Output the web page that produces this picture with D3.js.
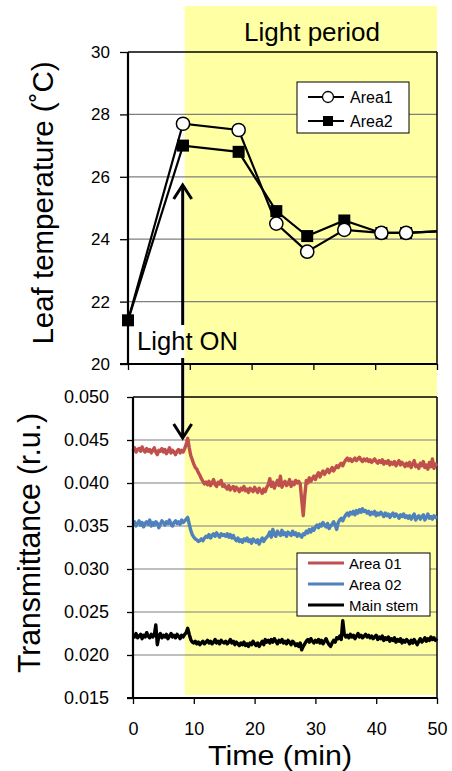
<!DOCTYPE html>
<html>
<head>
<meta charset="utf-8">
<script src="https://cdn.jsdelivr.net/npm/d3@7"></script>
<style>
  html, body { margin: 0; padding: 0; background: #fff; }
  svg { display: block; }
  text { font-family: "Liberation Sans", Arial, sans-serif; fill: #000; }
</style>
</head>
<body>
<svg id="chart" width="452" height="771"></svg>
<script>
// ---------------- DATA ----------------
// Top panel: leaf temperature (°C)
const tempTimes = [0, 8.9, 17.9, 24, 29, 35, 41, 45, 50];
const area1Temp = [21.4, 27.7, 27.5, 24.5, 23.6, 24.3, 24.2, 24.2, 24.25];
const area2Temp = [21.4, 27.0, 26.8, 24.9, 24.1, 24.6, 24.2, 24.2, 24.25];
const tempTicks = [20, 22, 24, 26, 28, 30];

// Bottom panel: transmittance (r.u.), sampled every 0.25 min from 0 to 50, in units of 0.0001
const sampleStep = 0.25;
const area01Trans = [
  438,441,436,439,440,437,442,438,436,440,
  437,439,435,438,441,436,433,438,437,440,
  436,439,434,437,441,435,438,436,433,437,
  439,435,438,436,440,
  445,452,441,432,427,422,418,416,412,409,405,402,399,401,
  398,402,397,400,404,398,396,401,399,403,396,398,
  395,393,397,392,394,396,391,395,393,390,394,392,396,391,393,389,394,392,390,395,
  392,389,394,391,388,393,390,395,
  398,405,396,401,394,399,403,397,408,395,400,402,397,399,404,396,401,398,403,400,402,
  399,380,362,385,403,400,406,402,405,408,404,
  409,412,407,411,414,410,413,416,412,415,418,414,417,420,418,421,423,420,424,427,
  429,426,428,425,427,429,426,428,430,427,425,428,
  426,428,425,427,424,426,428,425,423,426,424,427,422,425,423,426,421,424,422,425,420,423,426,421,424,422,419,423,
  420,424,418,422,426,419,421,417,423,420,425,418,421,416,424,419,428,417,422,420
];
const area02Trans = [
  352,355,350,353,356,351,354,349,353,355,
  352,357,350,354,351,355,353,348,352,356,
  354,351,355,353,357,352,350,354,356,353,
  355,352,357,354,356,
  358,360,352,345,340,337,335,334,332,333,335,333,336,338,
  337,340,336,339,341,338,342,339,337,341,339,340,
  338,341,337,340,336,339,335,333,336,332,334,331,335,333,336,332,334,330,335,333,
  331,334,329,333,336,332,335,337,
  339,343,337,346,340,338,344,341,339,345,340,342,338,343,341,339,344,340,342,338,341,
  339,337,341,340,344,342,346,343,347,345,349,
  351,348,352,350,354,351,349,353,347,350,352,355,351,346,354,357,359,356,360,363,
  365,362,366,364,367,363,368,365,369,366,370,367,
  368,365,367,363,366,364,367,362,365,363,366,364,361,365,362,364,360,363,365,361,364,362,359,363,361,364,360,362,
  359,362,358,361,364,357,360,362,358,361,363,357,360,364,359,361,358,362,360,361
];
const mainStemTrans = [
  223,221,225,220,222,224,219,223,221,226,
  222,220,224,221,223,235,212,222,225,220,
  223,221,224,219,222,225,221,223,220,224,
  222,219,223,221,224,
  226,231,224,218,215,214,216,213,215,212,214,216,213,215,
  217,214,216,213,215,218,214,216,213,217,215,214,
  216,213,215,218,214,216,212,215,213,211,214,212,215,211,213,210,214,212,216,213,
  211,214,210,213,216,212,218,215,
  217,214,218,215,219,216,213,217,215,218,214,216,213,217,215,212,216,214,211,213,210,
  214,206,210,213,216,218,215,219,216,214,217,
  215,218,214,217,213,216,219,215,212,210,214,217,215,220,219,222,218,240,224,221,
  223,220,224,221,223,219,222,225,221,223,220,222,
  224,221,223,220,222,219,221,223,218,221,219,222,217,220,218,221,216,219,217,220,215,218,216,219,214,217,215,218,
  216,213,217,214,218,215,212,216,219,215,217,220,216,219,217,221,218,220,217,219
];
const transUnit = 0.0001;
const transTicks = [0.015, 0.020, 0.025, 0.030, 0.035, 0.040, 0.045, 0.050];
const timeTicks = [0, 10, 20, 30, 40, 50];
const lightOnTime = 8.5;

const seriesBottom = [
  { name: "Area 01", color: "#C0504D", values: area01Trans },
  { name: "Area 02", color: "#4F81BD", values: area02Trans },
  { name: "Main stem", color: "#000000", values: mainStemTrans }
];

// ---------------- DRAW ----------------
const svg = d3.select("#chart");
svg.append("rect").attr("width", 452).attr("height", 771).attr("fill", "#fff");

const xT = d3.scaleLinear().domain([0, 50]).range([128, 437]);
const yT = d3.scaleLinear().domain([20, 30]).range([364, 52]);
const xB = d3.scaleLinear().domain([0, 50]).range([133, 437]);
const yB = d3.scaleLinear().domain([0.015, 0.050]).range([698, 397]);

// Light period shading
svg.append("rect")
  .attr("x", xB(lightOnTime)).attr("y", 6)
  .attr("width", 437 - xB(lightOnTime)).attr("height", 689)
  .attr("fill", "#FFFFA4");

svg.append("text").attr("x", 312).attr("y", 41).attr("text-anchor", "middle")
  .attr("font-size", 26).text("Light period");

// ---- Top panel ----
const gT = svg.append("g");
gT.selectAll("line.grid").data(tempTicks.filter(t => t > 20 && t < 30)).enter()
  .append("line").attr("x1", 128).attr("x2", 437)
  .attr("y1", d => yT(d)).attr("y2", d => yT(d))
  .attr("stroke", "#7f7f7f").attr("stroke-width", 1.2);
gT.append("line").attr("x1", 128).attr("x2", 437).attr("y1", yT(30)).attr("y2", yT(30))
  .attr("stroke", "#000").attr("stroke-width", 1.5);
gT.append("line").attr("x1", 437).attr("x2", 437).attr("y1", yT(30)).attr("y2", yT(20))
  .attr("stroke", "#000").attr("stroke-width", 1.5);

const axYT = gT.append("g").attr("transform", "translate(128,0)")
  .call(d3.axisLeft(yT).tickValues(tempTicks).tickFormat(d3.format("d")).tickSize(8).tickPadding(10));
const axXT = gT.append("g").attr("transform", "translate(0,364)")
  .call(d3.axisBottom(xT).tickValues(timeTicks).tickFormat("").tickSize(6));

// Temperature series
const lineT = d3.line().x(d => xT(d.t)).y(d => yT(d.v));
const a1 = tempTimes.map((t, i) => ({ t, v: area1Temp[i] }));
const a2 = tempTimes.map((t, i) => ({ t, v: area2Temp[i] }));
gT.append("path").datum(a2).attr("d", lineT).attr("fill", "none").attr("stroke", "#000").attr("stroke-width", 2.2);
gT.append("path").datum(a1).attr("d", lineT).attr("fill", "none").attr("stroke", "#000").attr("stroke-width", 2.2);
gT.selectAll("rect.m2").data(a2.filter(d => d.t < 50)).enter().append("rect")
  .attr("x", d => xT(d.t) - 6).attr("y", d => yT(d.v) - 6)
  .attr("width", 12).attr("height", 12).attr("fill", "#000");
gT.selectAll("circle.m1").data(a1.filter(d => d.t > 0 && d.t < 50)).enter().append("circle")
  .attr("cx", d => xT(d.t)).attr("cy", d => yT(d.v)).attr("r", 6.6)
  .attr("fill", "#fff").attr("stroke", "#000").attr("stroke-width", 1.5);

// Legend top
const lgT = svg.append("g");
lgT.append("rect").attr("x", 297).attr("y", 82).attr("width", 112).attr("height", 51)
  .attr("fill", "#fff").attr("stroke", "#000").attr("stroke-width", 1);
[["Area1", "circle", 97], ["Area2", "square", 121]].forEach(([lab, kind, y]) => {
  lgT.append("line").attr("x1", 308).attr("x2", 344).attr("y1", y).attr("y2", y)
    .attr("stroke", "#000").attr("stroke-width", 2);
  if (kind === "circle") {
    lgT.append("circle").attr("cx", 328).attr("cy", y).attr("r", 5.5)
      .attr("fill", "#fff").attr("stroke", "#000").attr("stroke-width", 1.3);
  } else {
    lgT.append("rect").attr("x", 323).attr("y", y - 5).attr("width", 10).attr("height", 10).attr("fill", "#000");
  }
  lgT.append("text").attr("x", 350).attr("y", y + 6).attr("font-size", 16).text(lab);
});

// ---- Bottom panel ----
const gB = svg.append("g");
gB.selectAll("line.grid").data(transTicks.filter(t => t > 0.0151 && t < 0.0499)).enter()
  .append("line").attr("x1", 133).attr("x2", 437)
  .attr("y1", d => yB(d)).attr("y2", d => yB(d))
  .attr("stroke", "#7f7f7f").attr("stroke-width", 1.2);
gB.append("line").attr("x1", 133).attr("x2", 437).attr("y1", yB(0.050)).attr("y2", yB(0.050))
  .attr("stroke", "#000").attr("stroke-width", 1.5);
gB.append("line").attr("x1", 437).attr("x2", 437).attr("y1", yB(0.050)).attr("y2", yB(0.015))
  .attr("stroke", "#000").attr("stroke-width", 1.5);

const lineB = d3.line().x((d, i) => xB(i * sampleStep)).y(d => yB(d * transUnit));
seriesBottom.forEach(s => {
  gB.append("path").datum(s.values).attr("d", lineB)
    .attr("fill", "none").attr("stroke", s.color).attr("stroke-width", 3.4)
    .attr("stroke-linejoin", "round");
});

const axYB = gB.append("g").attr("transform", "translate(133,0)")
  .call(d3.axisLeft(yB).tickValues(transTicks).tickFormat(d3.format(".3f")).tickSize(6).tickPadding(18));
const axXB = gB.append("g").attr("transform", "translate(0,698)")
  .call(d3.axisBottom(xB).tickValues(timeTicks).tickFormat(d3.format("d")).tickSize(6).tickPadding(18));

[axYT, axXT, axYB, axXB].forEach(ax => {
  ax.select(".domain").attr("stroke", "#000").attr("stroke-width", 2.2);
  ax.selectAll(".tick line").attr("stroke", "#000").attr("stroke-width", 1.3);
  ax.selectAll("text").attr("font-family", "Liberation Sans, Arial, sans-serif").attr("fill", "#000");
});
axYT.selectAll("text").attr("font-size", 17);
axYB.selectAll("text").attr("font-size", 18);
axXB.selectAll("text").attr("font-size", 18);
axYT.select(".domain").attr("d", "M0,364V52");
axXT.select(".domain").attr("d", "M120,0H437");
axYB.select(".domain").attr("d", "M0,698V397");
axXB.select(".domain").attr("d", "M127,0H437");

// Legend bottom
const lgB = svg.append("g");
lgB.append("rect").attr("x", 297).attr("y", 553).attr("width", 133).attr("height", 63)
  .attr("fill", "#fff").attr("stroke", "#000").attr("stroke-width", 1);
seriesBottom.forEach((s, i) => {
  const y = 563 + i * 21;
  lgB.append("line").attr("x1", 308).attr("x2", 344).attr("y1", y).attr("y2", y)
    .attr("stroke", s.color).attr("stroke-width", 3);
  lgB.append("text").attr("x", 349).attr("y", y + 5.5).attr("font-size", 15).text(s.name);
});

// Arrows + Light ON
const ax = xB(lightOnTime) - 2;
const arrows = svg.append("g").attr("stroke", "#000").attr("stroke-width", 3).attr("fill", "none");
arrows.append("line").attr("x1", ax).attr("x2", ax).attr("y1", 325).attr("y2", 186);
arrows.append("path").attr("d", `M${ax - 9},${199}L${ax},${185}L${ax + 9},${199}`);
arrows.append("line").attr("x1", ax).attr("x2", ax).attr("y1", 358).attr("y2", 437);
arrows.append("path").attr("d", `M${ax - 9},${424}L${ax},${438}L${ax + 9},${424}`);
svg.append("text").attr("x", 137).attr("y", 350).attr("font-size", 25)
  .attr("textLength", 101).attr("lengthAdjust", "spacingAndGlyphs").text("Light ON");

// Axis titles
svg.append("text").attr("transform", "translate(53,203) rotate(-90)")
  .attr("text-anchor", "middle").attr("font-size", 30)
  .attr("textLength", 283).attr("lengthAdjust", "spacingAndGlyphs").text("Leaf temperature (˚C)");
svg.append("text").attr("transform", "translate(40,543) rotate(-90)")
  .attr("text-anchor", "middle").attr("font-size", 32)
  .attr("textLength", 260).attr("lengthAdjust", "spacingAndGlyphs").text("Transmittance (r.u.)");
svg.append("text").attr("x", 280).attr("y", 765)
  .attr("text-anchor", "middle").attr("font-size", 28)
  .attr("textLength", 144).attr("lengthAdjust", "spacingAndGlyphs").text("Time (min)");
</script>
</body>
</html>
